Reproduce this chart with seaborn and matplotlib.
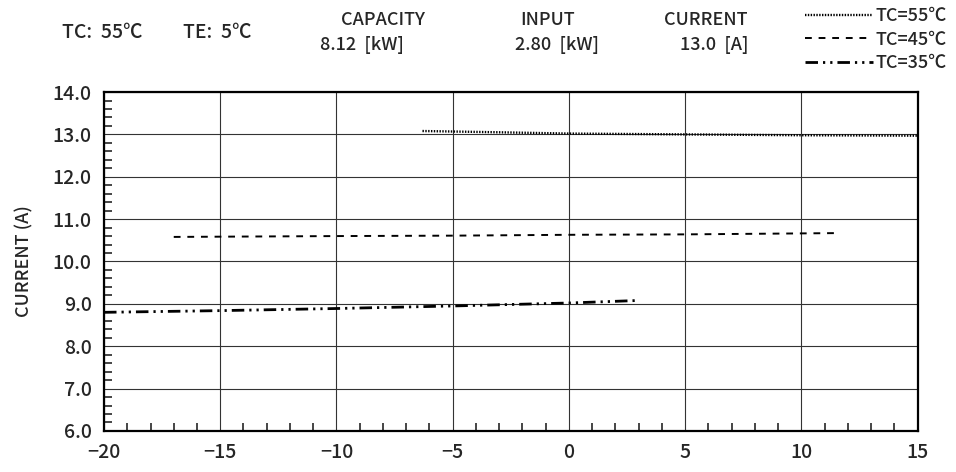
import pandas as pd
import matplotlib.pyplot as plt
import seaborn as sns
from matplotlib.ticker import MultipleLocator

# -----------------------------
# data
# -----------------------------
te_55 = [-6.3, -3, 0, 5, 10, 15]
cur_55 = [13.08, 13.05, 13.02, 13.00, 12.98, 12.97]

te_45 = [-17, -10, -5, 0, 5, 11.5]
cur_45 = [10.58, 10.60, 10.61, 10.63, 10.64, 10.67]

te_35 = [-20, -15, -10, -5, 0, 3]
cur_35 = [8.80, 8.84, 8.89, 8.95, 9.02, 9.08]

labels = ["TC=55℃", "TC=45℃", "TC=35℃"]

header_top = ["CAPACITY", "INPUT", "CURRENT"]
header_val = ["8.12  [kW]", "2.80  [kW]", "13.0  [A]"]

sns.set_style("white")
plt.rcParams['font.family'] = ['Noto Sans CJK JP', 'DejaVu Sans']
plt.rcParams['axes.unicode_minus'] = True

fig = plt.figure(figsize=(9.56, 4.72), dpi=100)
ax = fig.add_axes([0.1088, 0.087, 0.851, 0.718])

df55 = pd.DataFrame({"te": te_55, "cur": cur_55})
df45 = pd.DataFrame({"te": te_45, "cur": cur_45})
df35 = pd.DataFrame({"te": te_35, "cur": cur_35})

sns.lineplot(data=df55, x="te", y="cur", ax=ax, color="black", lw=1.7,
             linestyle=(0, (0.6, 0.6)), label=labels[0])
sns.lineplot(data=df45, x="te", y="cur", ax=ax, color="black", lw=1.4,
             linestyle=(0, (3.5, 3.5)), label=labels[1])
sns.lineplot(data=df35, x="te", y="cur", ax=ax, color="black", lw=2.0,
             linestyle=(0, (4.5, 1.8, 0.8, 1.8, 0.8, 1.8)), label=labels[2])

ax.set_xlim(-20, 15)
ax.set_ylim(6, 14)
ax.xaxis.set_major_locator(MultipleLocator(5))
ax.xaxis.set_minor_locator(MultipleLocator(1))
ax.yaxis.set_major_locator(MultipleLocator(1))
ax.yaxis.set_minor_locator(MultipleLocator(0.2))
ax.set_yticklabels([f"{v:.1f}" for v in ax.get_yticks()])
ax.set_xticklabels([f"{int(v)}".replace("-", "−") for v in ax.get_xticks()])

ax.grid(True, which="major", color="#333333", lw=0.8)
ax.tick_params(axis="both", which="major", length=0, labelsize=14, pad=9)
ax.tick_params(axis="x", which="minor", direction="in", length=6, width=1.2, bottom=True)
ax.tick_params(axis="y", which="minor", direction="in", length=6, width=1.2, left=True)
for lab in ax.get_xticklabels() + ax.get_yticklabels():
    lab.set_fontweight("medium")
for s in ax.spines.values():
    s.set_color("black")
    s.set_linewidth(1.6)

ax.set_xlabel("")
ax.set_ylabel("CURRENT (A)", fontsize=13, labelpad=14, fontweight="medium")

ax.get_legend().remove()
handles, lbls = ax.get_legend_handles_labels()
fig.legend(handles, lbls, loc="upper right", bbox_to_anchor=(1.006, 1.015),
           frameon=False, handlelength=3.8, handletextpad=0.15,
           labelspacing=0.3, borderpad=0.3, prop={"weight": "medium", "size": 13})

# header texts
fig.text(62 / 956, 0.932, "TC:  55℃", fontsize=14, va="center", fontweight="medium")
fig.text(183 / 956, 0.932, "TE:  5℃", fontsize=14, va="center", fontweight="medium")
top_x = [383, 548, 706]
val_x = [362, 557, 714]
for tx, vx, t, v in zip(top_x, val_x, header_top, header_val):
    fig.text(tx / 956, 0.957, t, fontsize=13, ha="center", va="center", fontweight="medium")
    fig.text(vx / 956, 0.905, v, fontsize=13, ha="center", va="center", fontweight="medium")

plt.savefig("out.png", dpi=100)
plt.close()
